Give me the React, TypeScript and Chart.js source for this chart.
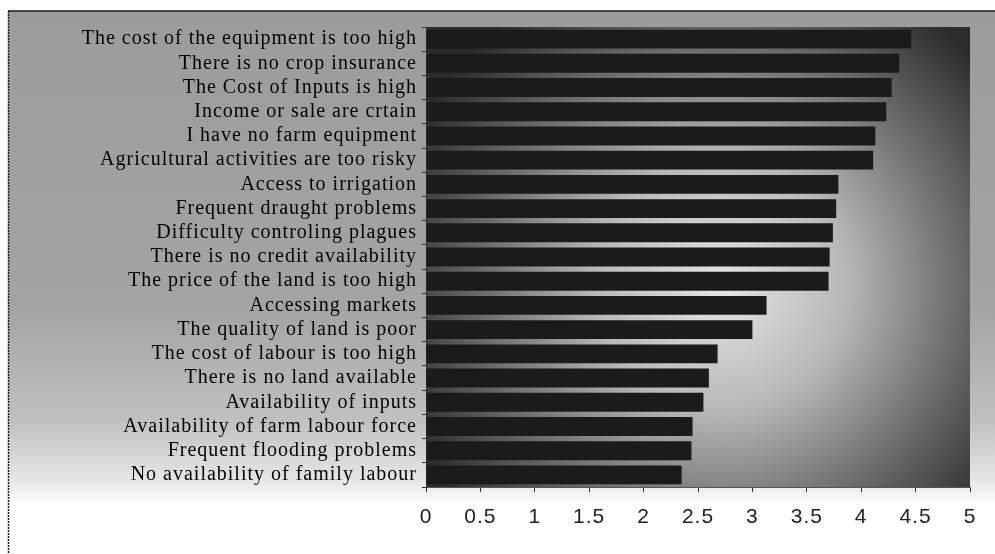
import React, { useEffect, useRef } from "react";
import { Chart, registerables } from "chart.js";

Chart.register(...registerables);

const categories: string[] = [
  "The cost of the equipment is too high",
  "There is no crop insurance",
  "The Cost of Inputs is high",
  "Income or sale are crtain",
  "I have no farm equipment",
  "Agricultural activities are too risky",
  "Access to irrigation",
  "Frequent draught problems",
  "Difficulty controling plagues",
  "There is no credit availability",
  "The price of the land is too high",
  "Accessing markets",
  "The quality of land is poor",
  "The cost of labour is too high",
  "There is no land available",
  "Availability of inputs",
  "Availability of farm labour force",
  "Frequent flooding problems",
  "No availability of family labour",
];

const values: number[] = [
  4.46, 4.35, 4.28, 4.23, 4.13, 4.11, 3.79, 3.77, 3.74, 3.71, 3.7, 3.13, 3.0,
  2.68, 2.6, 2.55, 2.45, 2.44, 2.35,
];

const xTicks: number[] = [0, 0.5, 1, 1.5, 2, 2.5, 3, 3.5, 4, 4.5, 5];

const backgroundPlugin = {
  id: "scanBackground",
  beforeDraw(chart: any) {
    const { ctx, chartArea, width, height } = chart;
    ctx.save();
    ctx.fillStyle = "#ffffff";
    ctx.fillRect(0, 0, width, height);
    const g = ctx.createLinearGradient(0, 11, 0, 505);
    g.addColorStop(0, "#9c9c9c");
    g.addColorStop(0.6, "#a4a4a4");
    g.addColorStop(0.83, "#c0c0c0");
    g.addColorStop(0.95, "#e6e6e6");
    g.addColorStop(1, "#ffffff");
    ctx.fillStyle = g;
    ctx.fillRect(8, 11, width - 8, 494);
    const r = ctx.createRadialGradient(720, 285, 10, 720, 285, 340);
    r.addColorStop(0, "#e2e2e2");
    r.addColorStop(0.35, "#b8b8b8");
    r.addColorStop(0.7, "#6a6a6a");
    r.addColorStop(1, "#2c2c2c");
    ctx.fillStyle = r;
    ctx.fillRect(
      chartArea.left,
      chartArea.top,
      chartArea.right - chartArea.left,
      chartArea.bottom - chartArea.top
    );
    ctx.strokeStyle = "#1a1a1a";
    ctx.lineWidth = 1.5;
    ctx.beginPath();
    ctx.moveTo(8, 11);
    ctx.lineTo(width, 11);
    ctx.stroke();
    ctx.setLineDash([2, 1]);
    ctx.beginPath();
    ctx.moveTo(8.5, 11);
    ctx.lineTo(8.5, height);
    ctx.stroke();
    ctx.restore();
    (ctx as any).letterSpacing = "1px";
  },
  afterDraw(chart: any) {
    (chart.ctx as any).letterSpacing = "0px";
  },
};

export default function App() {
  const canvasRef = useRef<HTMLCanvasElement | null>(null);

  useEffect(() => {
    if (!canvasRef.current) return;
    const chart = new Chart(canvasRef.current, {
      type: "bar",
      data: {
        labels: categories,
        datasets: [
          {
            data: values,
            backgroundColor: "#1b1b1b",
            borderWidth: 0,
            barPercentage: 0.78,
            categoryPercentage: 1,
          },
        ],
      },
      options: {
        indexAxis: "y",
        responsive: false,
        animation: false,
        layout: { padding: { top: 27, right: 25, bottom: 0, left: 0 } },
        plugins: {
          legend: { display: false },
          tooltip: { enabled: false },
        },
        scales: {
          x: {
            type: "linear",
            min: 0,
            max: 5,
            afterBuildTicks: (scale: any) => {
              scale.ticks = xTicks.map((v) => ({ value: v }));
            },
            afterFit: (scale: any) => {
              scale.height = 67;
            },
            grid: {
              display: true,
              drawOnChartArea: false,
              drawTicks: true,
              tickLength: 5,
              color: "#333333",
            },
            border: { display: true, color: "#555555", dash: [1, 2] },
            ticks: {
              padding: 13,
              color: "#222222",
              font: { family: "'Liberation Sans', Arial, sans-serif", size: 21 },
              callback: (v: any) => String(v),
            },
          },
          y: {
            type: "category",
            afterFit: (scale: any) => {
              scale.width = 426;
            },
            grid: {
              display: true,
              drawOnChartArea: false,
              drawTicks: true,
              tickLength: 4,
              color: "#333333",
            },
            border: { display: true, color: "#333333" },
            ticks: {
              autoSkip: false,
              padding: 5,
              color: "#000000",
              font: { family: "'Liberation Serif', 'Times New Roman', serif", size: 20 },
            },
          },
        },
      },
      plugins: [backgroundPlugin],
    });
    return () => chart.destroy();
  }, []);

  return (
    <div style={{ position: "fixed", left: 0, top: 0, width: 995, height: 554 }}>
      <canvas ref={canvasRef} width={995} height={554} />
    </div>
  );
}
